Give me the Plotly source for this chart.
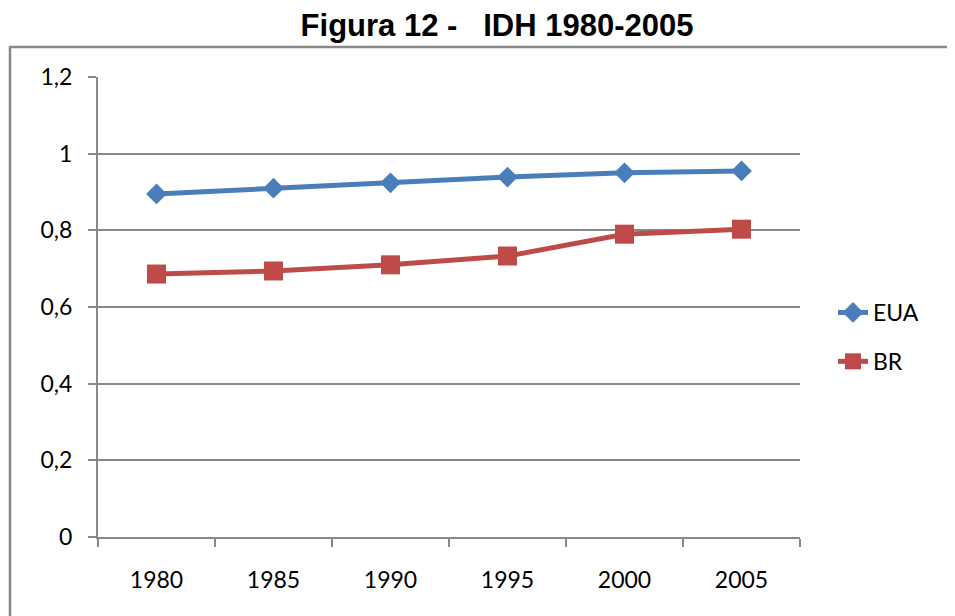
import plotly.graph_objects as go

years = ["1980", "1985", "1990", "1995", "2000", "2005"]
eua = [0.895, 0.910, 0.924, 0.939, 0.950, 0.955]
br = [0.686, 0.694, 0.710, 0.733, 0.790, 0.803]
title_text = "Figura 12 -\u00a0\u00a0 IDH 1980-2005"

BLUE = "#4A7EBB"
RED = "#BE4B48"
GRID = "#888888"
TICKFONT = dict(family="Lato, Open Sans, sans-serif", size=23, color="#000000")

# page has an 8px body margin; work in page coordinates and shift
OFF = 8
W, H = 955 - OFF, 616 - OFF

fig = go.Figure()
fig.add_trace(go.Scatter(
    x=years, y=eua, name="EUA", mode="lines+markers", legendgroup="a",
    line=dict(color=BLUE, width=5),
    marker=dict(symbol="diamond", size=16, color=BLUE),
))
fig.add_trace(go.Scatter(
    x=years, y=br, name="BR", mode="lines+markers", legendgroup="b",
    line=dict(color=RED, width=5),
    marker=dict(symbol="square", size=19, color=RED),
))

# page-coordinate plot box
PX0, PX1, PY0, PY1 = 98, 800, 77, 537
L, T = PX0 - OFF, PY0 - OFF
R = W - (PX1 - OFF)
B = H - (PY1 - OFF)
pw, ph = PX1 - PX0, PY1 - PY0

fig.update_layout(
    width=W, height=H,
    margin=dict(l=L, r=R, t=T, b=B, pad=0),
    paper_bgcolor="white", plot_bgcolor="white",
    separators=",.",
    title=dict(text="<b>" + title_text + "</b>", x=(497 - OFF) / W, xanchor="center",
               y=1 - (25 - OFF) / H, yanchor="middle",
               font=dict(family="Liberation Sans, Arial, sans-serif", size=31, color="#000000")),
    showlegend=True,
    legend=dict(x=(833 - PX0) / pw, xanchor="left", y=(PY1 - 337) / ph, yanchor="middle",
                font=dict(family="Lato, Open Sans, sans-serif", size=23, color="#000000"),
                tracegroupgap=16, bgcolor="rgba(0,0,0,0)"),
    xaxis=dict(type="category", tickson="boundaries", ticks="outside", ticklen=8,
               tickwidth=2, tickcolor=GRID, showline=True, linecolor=GRID, linewidth=2,
               showgrid=False, tickfont=TICKFONT, ticklabelstandoff=21,
               range=[-0.5, 5.5]),
    yaxis=dict(range=[0, 1.2], tickvals=[0, 0.2, 0.4, 0.6, 0.8, 1.0, 1.2],
               ticks="outside", ticklen=8, tickwidth=2, tickcolor=GRID,
               showline=True, linecolor=GRID, linewidth=2,
               showgrid=True, gridcolor=GRID, gridwidth=2, zeroline=False,
               tickfont=TICKFONT, ticklabelstandoff=11),
    shapes=[dict(type="rect", xref="paper", yref="paper",
                 x0=(10 - PX0) / pw, x1=(990 - PX0) / pw,
                 y0=(PY1 - 650) / ph, y1=(PY1 - 47) / ph,
                 line=dict(color=GRID, width=2.5), layer="below")],
)

fig.write_html("out.html")
